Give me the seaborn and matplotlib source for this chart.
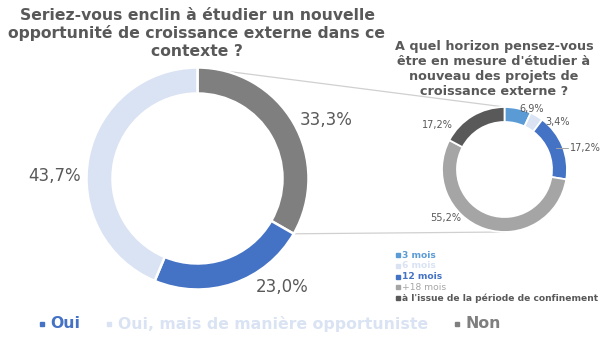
import matplotlib
matplotlib.use("Agg")
import matplotlib.pyplot as plt
import seaborn as sns
import numpy as np

# ---- data ----
main_labels = ["Non", "Oui", "Oui, mais de manière opportuniste"]
main_values = [33.3, 23.0, 43.7]
main_colors = ["#7F7F7F", "#4472C4", "#DAE3F3"]

sub_labels = ["3 mois", "6 mois", "12 mois", "+18 mois",
              "à l'issue de la période de confinement"]
sub_values = [6.9, 3.4, 17.2, 55.2, 17.2]
sub_colors = ["#5B9BD5", "#DAE3F3", "#4472C4", "#A5A5A5", "#595959"]

title_main = "Seriez-vous enclin à étudier un nouvelle\nopportunité de croissance externe dans ce\ncontexte ?"
title_sub = "A quel horizon pensez-vous\nêtre en mesure d'étudier à\nnouveau des projets de\ncroissance externe ?"

legend_main_order = ["Oui", "Oui, mais de manière opportuniste", "Non"]

# ---- layout (pixels, y from top) ----
W, H = 600, 347
main_c, main_r, main_w = (197.5, 178.5), 111, 26
sub_c, sub_r, sub_w = (504.5, 169.5), 62.5, 15
main_lbl_pos = [(326, 120), (282, 287), (55, 176)]
sub_lbl_pos = [(532, 109), (558, 122), (585, 148), (446, 218), (437, 125)]

sns.set_theme(style="white")
plt.rcParams['font.family'] = ['DejaVu Sans']

fig = plt.figure(figsize=(W / 100, H / 100), dpi=100)
ax = fig.add_axes([0, 0, 1, 1])

def fy(y):
    return H - y

TXT = "#595959"
fmt = lambda v: f"{v:.1f}".replace(".", ",") + "%"

# connector lines (from Non wedge ends to sub donut top/bottom)
non_end = main_values[0] / sum(main_values) * 2 * np.pi
p_top = (main_c[0], fy(main_c[1]) + main_r)
p_bot = (main_c[0] + main_r * np.sin(non_end), fy(main_c[1]) + main_r * np.cos(non_end))
ax.plot([p_top[0], sub_c[0]], [p_top[1], fy(sub_c[1]) + sub_r], color="#D0D0D0", lw=0.9, zorder=0)
ax.plot([p_bot[0], sub_c[0]], [p_bot[1], fy(sub_c[1]) - sub_r], color="#D0D0D0", lw=0.9, zorder=0)

ax.pie(main_values, colors=main_colors, startangle=90, counterclock=False,
       radius=main_r, center=(main_c[0], fy(main_c[1])),
       wedgeprops=dict(width=main_w, edgecolor="white", linewidth=1.8))
ax.pie(sub_values, colors=sub_colors, startangle=90, counterclock=False,
       radius=sub_r, center=(sub_c[0], fy(sub_c[1])),
       wedgeprops=dict(width=sub_w, edgecolor="white", linewidth=1.3))

ax.set_xlim(0, W)
ax.set_ylim(0, H)
ax.set_aspect("equal")
ax.axis("off")

for v, (x, y) in zip(main_values, main_lbl_pos):
    ax.text(x, fy(y), fmt(v), ha="center", va="center", fontsize=12, color=TXT)
for v, (x, y) in zip(sub_values, sub_lbl_pos):
    ax.text(x, fy(y), fmt(v), ha="center", va="center", fontsize=7, color=TXT)
ax.plot([556, 568], [fy(148), fy(148)], color="#A5A5A5", lw=0.7)

ax.text(197, fy(33), title_main, ha="center", va="center", fontsize=11.25,
        fontweight="bold", color=TXT, linespacing=1.2)
ax.text(494, fy(69), title_sub, ha="center", va="center", fontsize=9.2,
        fontweight="bold", color=TXT, linespacing=1.22)

# sub legend
sub_weights = ["bold", "bold", "bold", "normal", "bold"]
for i, (lab, col, wt) in enumerate(zip(sub_labels, sub_colors, sub_weights)):
    y = 255 + i * 10.8
    ax.plot([397.5], [fy(y)], marker="s", markersize=2.4, color=col, lw=0)
    ax.text(402, fy(y), lab, ha="left", va="center", fontsize=6.55, color=col, fontweight=wt)

# main legend
main_map = dict(zip(main_labels, main_colors))
leg_x = [42, 109, 457]
for x, lab in zip(leg_x, legend_main_order):
    col = main_map[lab]
    ax.plot([x], [fy(324)], marker="s", markersize=3.2, color=col, lw=0)
    ax.text(x + 8.5, fy(324), lab, ha="left", va="center", fontsize=11.3, color=col, fontweight="bold")

fig.savefig("out.png", dpi=100)
